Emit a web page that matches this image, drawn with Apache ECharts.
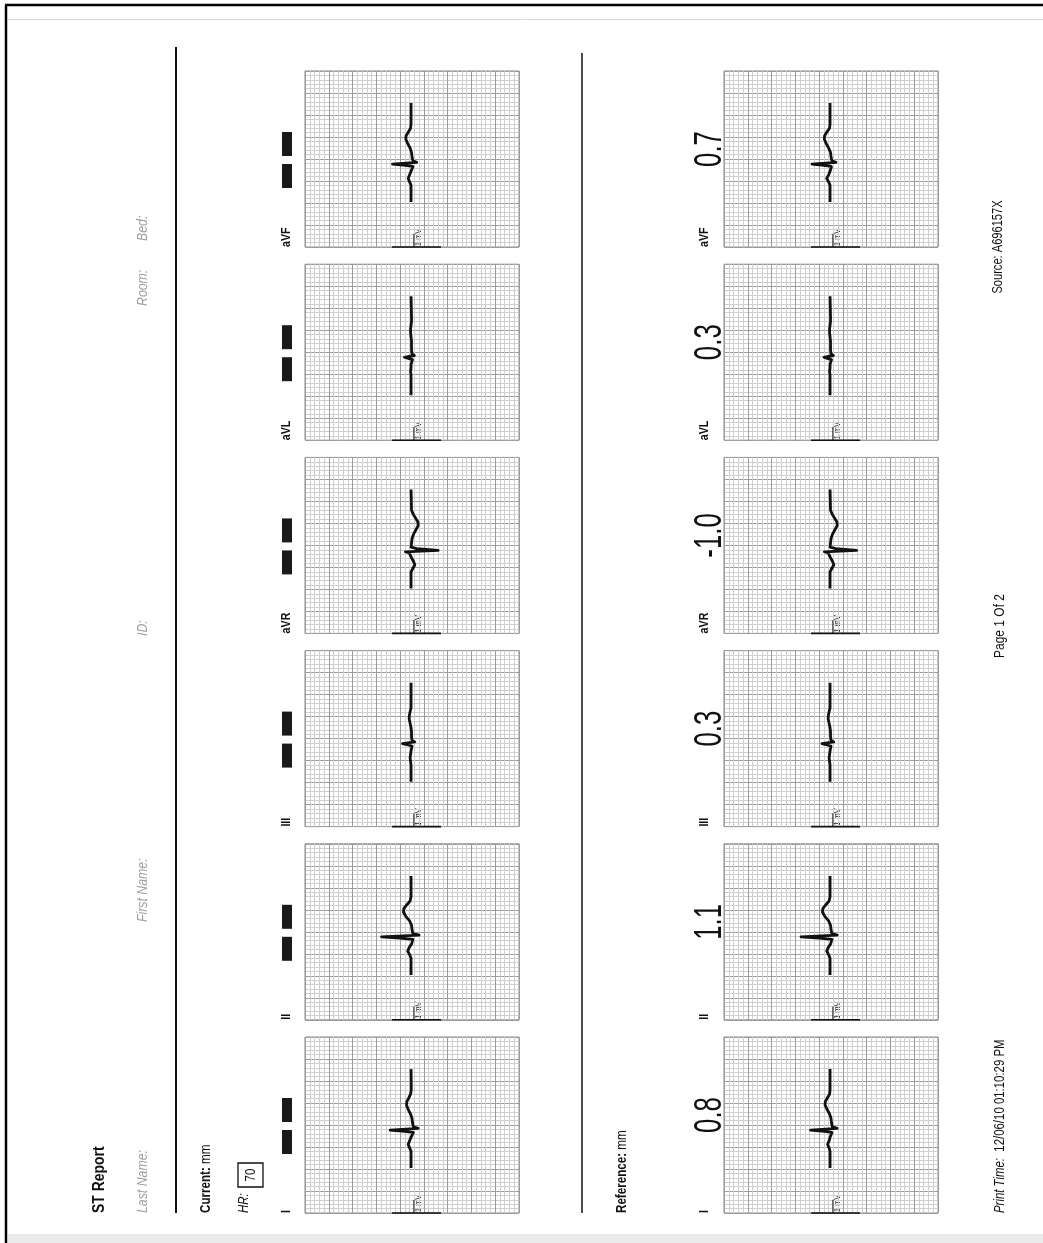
<!DOCTYPE html>
<html><head><meta charset="utf-8">
<script src="https://cdn.jsdelivr.net/npm/echarts@6/dist/echarts.min.js"></script>
<style>html,body{margin:0;padding:0;background:#fff}#c{width:1043px;height:1243px}</style>
</head><body><div id="c"></div>
<script>
// ---- data ----
const leads = ['I', 'II', 'III', 'aVR', 'aVL', 'aVF'];
const refValues = ['0.8', '1.1', '0.3', '-1.0', '0.3', '0.7'];
const hrValue = '70';
// sample times of the beat (mm of paper, 25 mm/s)
const beatTimes = [10.2, 14.0, 14.8, 15.6, 16.4, 17.2, 18.3, 18.55, 18.85, 19.25, 19.6, 20.5, 21.5, 22.5, 23.5, 24.5, 25.3, 26.1, 27.0, 28.0, 32.7];
// amplitudes (mm, 10 mm = 1 mV)
const curI   = [0.2, 0.2, 0.5, 0.8, 0.5, 0.2, -0.3, 1.5, 4.6, -1.3, -0.3, -0.1, 0.0, 0.3, 0.8, 1.15, 1.1, 0.7, 0.3, 0.15, 0.2];
const curII  = [0.2, 0.2, 0.5, 0.9, 0.6, 0.1, -0.2, 2.5, 6.4, -1.5, -0.2, 0.0, 0.1, 0.5, 1.3, 1.8, 1.7, 1.1, 0.4, 0.2, 0.2];
const curIII = [0.2, 0.2, 0.3, 0.4, 0.3, 0.2, 0.0, 0.8, 2.0, -0.6, 0.0, 0.1, 0.1, 0.2, 0.4, 0.6, 0.55, 0.4, 0.2, 0.2, 0.2];
const curAVR = [0.2, 0.2, -0.2, -0.6, -0.3, 0.1, 0.6, 1.4, -5.5, -1.0, 0.2, 0.1, 0.0, -0.3, -0.8, -1.3, -1.25, -0.8, -0.3, 0.1, 0.2];
const curAVL = [0.2, 0.2, 0.2, 0.3, 0.2, 0.2, -0.1, 0.6, 1.6, -0.5, 0.0, 0.1, 0.1, 0.1, 0.2, 0.3, 0.3, 0.2, 0.1, 0.1, 0.2];
const curAVF = [0.2, 0.2, 0.5, 0.8, 0.5, 0.2, -0.2, 1.4, 4.1, -1.0, -0.2, 0.0, 0.1, 0.4, 0.9, 1.3, 1.25, 0.8, 0.3, 0.2, 0.2];
const refI   = [0.2, 0.2, 0.4, 0.7, 0.4, 0.2, -0.2, 1.4, 4.3, -1.3, -0.3, -0.1, 0.0, 0.3, 0.8, 1.25, 1.2, 0.8, 0.3, 0.2, 0.2];
const refII  = [0.2, 0.2, 0.5, 0.9, 0.6, 0.1, -0.2, 2.4, 6.3, -1.3, -0.2, 0.0, 0.1, 0.5, 1.3, 1.8, 1.7, 1.1, 0.4, 0.2, 0.2];
const refIII = [0.2, 0.2, 0.3, 0.4, 0.3, 0.2, 0.0, 0.8, 1.9, -0.6, 0.0, 0.1, 0.1, 0.2, 0.4, 0.6, 0.55, 0.4, 0.2, 0.2, 0.2];
const refAVR = [0.2, 0.2, -0.2, -0.6, -0.3, 0.1, 0.6, 1.4, -5.4, -1.0, 0.2, 0.1, 0.0, -0.3, -0.8, -1.3, -1.25, -0.8, -0.3, 0.1, 0.2];
const refAVL = [0.2, 0.2, 0.2, 0.3, 0.2, 0.2, -0.1, 0.6, 1.5, -0.5, 0.0, 0.1, 0.1, 0.1, 0.2, 0.3, 0.3, 0.2, 0.1, 0.1, 0.2];
const refAVF = [0.2, 0.2, 0.5, 0.9, 0.5, 0.2, -0.1, 1.5, 4.0, -1.05, -0.2, 0.0, 0.1, 0.5, 1.0, 1.4, 1.35, 0.9, 0.3, 0.2, 0.2];
const currentSets = [curI, curII, curIII, curAVR, curAVL, curAVF];
const referenceSets = [refI, refII, refIII, refAVR, refAVL, refAVF];
// 1 mV calibration bar (amplitude mm, time mm)
const calBar = [[4.2, 0], [-6.1, 0]];
const calTick = [[-0.4, 0], [-0.4, 3.0]];

// ---- layout ----
const FF = '"Liberation Sans",Arial,sans-serif';
const colLeft = [305, 724];
const panelW = 214, panelH = 176;
const rowTop = i => 1037 - i * 193.2;
const R90 = Math.PI / 2;

const grids = [], xAxes = [], yAxes = [], series = [], gfx = [];
function txt(x, y, text, font, fill, align, sx, extra) {
  const o = { type: 'text', x: x, y: y, rotation: R90, scaleX: sx || 0.82, scaleY: 1, silent: true,
    style: Object.assign({ text: text, font: font, fill: fill || '#111', align: align || 'left', textAlign: align || 'left', verticalAlign: 'middle', textVerticalAlign: 'middle' }, extra || {}) };
  gfx.push(o);
}
let gi = 0;
[currentSets, referenceSets].forEach((sets, c) => {
  sets.forEach((amps, i) => {
    const top = rowTop(i);
    grids.push({ left: colLeft[c], top: top, width: panelW, height: panelH, show: true, borderColor: '#8a8a8a', borderWidth: 1, backgroundColor: '#fff' });
    const common = { gridIndex: gi, type: 'value', axisLine: { show: false }, axisTick: { show: false }, axisLabel: { show: false },
      splitLine: { show: true, lineStyle: { color: '#9c9c9c', width: 1 } },
      minorTick: { show: false, splitNumber: 5 },
      minorSplitLine: { show: true, lineStyle: { color: '#cfcfcf', width: 1 } } };
    xAxes.push(Object.assign({}, common, { min: -22.5, max: 22.5, interval: 5, inverse: true }));
    yAxes.push(Object.assign({}, common, { min: 0, max: 40, interval: 5 }));
    series.push({ type: 'line', xAxisIndex: gi, yAxisIndex: gi, data: beatTimes.map((t, k) => [amps[k], t]),
      showSymbol: false, symbol: 'none', silent: true, lineStyle: { color: '#111', width: 2.8, join: 'round' }, z: 5 });
    series.push({ type: 'line', xAxisIndex: gi, yAxisIndex: gi, data: calBar, clip: false, showSymbol: false, symbol: 'none', silent: true, lineStyle: { color: '#111', width: 1.6 }, z: 6 });
    series.push({ type: 'line', xAxisIndex: gi, yAxisIndex: gi, data: calTick, clip: false, showSymbol: false, symbol: 'none', silent: true, lineStyle: { color: '#111', width: 1 }, z: 6 });
    const bottom = top + panelH;
    const cx = colLeft[c] + panelW / 2;
    txt(cx + 6.5, bottom - 1, '1 mV', '9px ' + FF, '#222');
    // lead label
    txt(c === 0 ? 286 : 704, bottom, leads[i], 'bold 13px ' + FF, '#111');
    if (c === 0) {
      gfx.push({ type: 'rect', silent: true, shape: { x: 282, y: bottom - 83, width: 10, height: 24 }, style: { fill: '#1a1a1a' } });
      gfx.push({ type: 'rect', silent: true, shape: { x: 282, y: bottom - 115, width: 10, height: 24 }, style: { fill: '#1a1a1a' } });
    } else {
      txt(711, bottom - 98, refValues[i], '38px ' + FF, '#111', 'center', 0.68);
    }
    gi++;
  });
});

// header / footer texts
txt(99, 1213, 'ST Report', 'bold 17px ' + FF, '#111');
txt(143, 1213, 'Last Name:', 'italic 15px ' + FF, '#a0a0a0');
txt(143, 922, 'First Name:', 'italic 15px ' + FF, '#a0a0a0');
txt(143, 636, 'ID:', 'italic 15px ' + FF, '#a0a0a0');
txt(143, 306, 'Room:', 'italic 15px ' + FF, '#a0a0a0');
txt(143, 241, 'Bed:', 'italic 15px ' + FF, '#a0a0a0');
txt(206, 1213, '{b|Current:} mm', '14px ' + FF, '#111', 'left', 0.83, { rich: { b: { fontWeight: 'bold', fontSize: 14, fontFamily: FF } } });
txt(244, 1213, 'HR:', 'italic 14px ' + FF, '#111');
gfx.push({ type: 'rect', silent: true, shape: { x: 238, y: 1163, width: 25, height: 24 }, style: { fill: 'none', stroke: '#111', lineWidth: 1.3 } });
txt(251, 1175, hrValue, '14px ' + FF, '#111', 'center');
txt(622, 1213, '{b|Reference:} mm', '14px ' + FF, '#111', 'left', 0.83, { rich: { b: { fontWeight: 'bold', fontSize: 14, fontFamily: FF } } });
txt(1000, 1213, '{i|Print Time:}  12/06/10 01:10:29 PM', '15px ' + FF, '#111', 'left', 0.76, { rich: { i: { fontStyle: 'italic', fontSize: 15, fontFamily: FF } } });
txt(1000, 626, 'Page 1 Of 2', '15px ' + FF, '#111', 'center', 0.8);
txt(998, 247, 'Source: A696157X', '15px ' + FF, '#111', 'center', 0.74);

// page rules
gfx.push({ type: 'line', silent: true, shape: { x1: 176, y1: 47, x2: 176, y2: 1213 }, style: { stroke: '#111', lineWidth: 2 } });
gfx.push({ type: 'line', silent: true, shape: { x1: 582, y1: 53, x2: 582, y2: 1213 }, style: { stroke: '#111', lineWidth: 1.5 } });
gfx.push({ type: 'line', silent: true, shape: { x1: 5, y1: 5, x2: 1043, y2: 5 }, style: { stroke: '#000', lineWidth: 2.5 } });
gfx.push({ type: 'line', silent: true, shape: { x1: 6, y1: 5, x2: 6, y2: 1243 }, style: { stroke: '#000', lineWidth: 2.5 } });
gfx.push({ type: 'line', silent: true, shape: { x1: 8, y1: 19.5, x2: 1043, y2: 19.5 }, style: { stroke: '#d8d8d8', lineWidth: 1 } });
gfx.push({ type: 'rect', silent: true, shape: { x: 8, y: 1234, width: 1035, height: 9 }, style: { fill: '#ececec' } });

const chart = echarts.init(document.getElementById('c'), null, { renderer: 'canvas' });
chart.setOption({
  animation: false,
  backgroundColor: '#fff',
  grid: grids, xAxis: xAxes, yAxis: yAxes, series: series,
  graphic: { elements: gfx }
});
</script></body></html>
